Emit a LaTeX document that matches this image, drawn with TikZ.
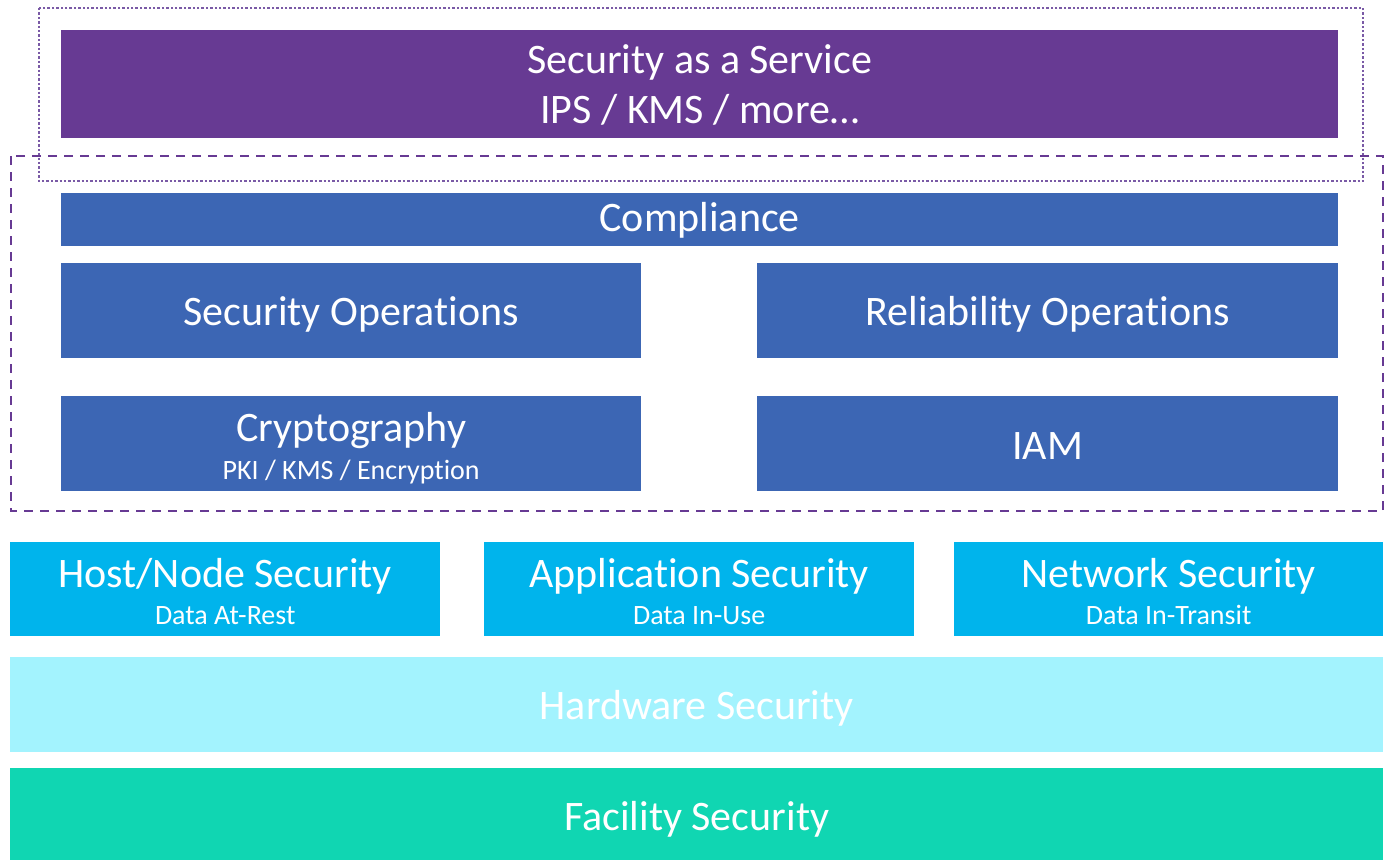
\documentclass[tikz,border=0pt]{standalone}
\usepackage{fontspec}
\setmainfont[Ligatures=NoCommon]{Carlito}
\definecolor{saasPurple}{HTML}{673A93}
\definecolor{coreBlue}{HTML}{3C66B4}
\definecolor{layerCyan}{HTML}{00B4EC}
\definecolor{hwCyan}{HTML}{A3F3FE}
\definecolor{facTeal}{HTML}{10D6B2}
\definecolor{frameDot}{HTML}{7A5AA6}
\begin{document}
\begin{tikzpicture}[x=1pt,y=-1pt,
  blk/.style={anchor=north west, inner sep=0pt, draw=none},
  lbl/.style={anchor=base, inner sep=0pt, text=white, font=\fontsize{42}{50}\selectfont},
  sublbl/.style={anchor=base, inner sep=0pt, text=white, font=\fontsize{28}{34}\selectfont}]
\useasboundingbox (0,0) rectangle (1386,860);

% outer frames
\draw[frameDot, line width=2.4pt, dotted] (39,8) rectangle (1363,181);
\draw[saasPurple, line width=2pt, dash pattern=on 9pt off 7pt] (11,156) rectangle (1383,511);

% service layer
\node[blk, fill=saasPurple, minimum width=1277pt, minimum height=108pt] (saas) at (61,30) {};
\node[lbl] (saasT) at (saas.center |- 0,73) {Security as a Service};
\node[lbl] (saasS) at (saas.center |- 0,123) {IPS / KMS / more\ldots};

% core platform
\node[blk, fill=coreBlue, minimum width=1277pt, minimum height=53pt] (comp) at (61,193) {};
\node[lbl] (compT) at (comp.center |- 0,231) {Compliance};
\node[blk, fill=coreBlue, minimum width=580pt, minimum height=95pt] (secops) at (61,263) {};
\node[lbl] (secopsT) at (secops.center |- 0,325) {Security Operations};
\node[blk, fill=coreBlue, minimum width=581pt, minimum height=95pt] (relops) at (757,263) {};
\node[lbl] (relopsT) at (relops.center |- 0,325) {Reliability Operations};
\node[blk, fill=coreBlue, minimum width=580pt, minimum height=95pt] (crypto) at (61,396) {};
\node[lbl] (cryptoT) at (crypto.center |- 0,441) {Cryptography};
\node[sublbl] (cryptoS) at (crypto.center |- 0,479) {PKI / KMS / Encryption};
\node[blk, fill=coreBlue, minimum width=581pt, minimum height=95pt] (iam) at (757,396) {};
\node[lbl] (iamT) at (iam.center |- 0,459) {IAM};

% data layers
\node[blk, fill=layerCyan, minimum width=430pt, minimum height=94pt] (host) at (10,542) {};
\node[lbl] (hostT) at (host.center |- 0,587) {Host/Node Security};
\node[sublbl] (hostS) at (host.center |- 0,624) {Data At-Rest};
\node[blk, fill=layerCyan, minimum width=430pt, minimum height=94pt] (app) at (484,542) {};
\node[lbl] (appT) at (app.center |- 0,587) {Application Security};
\node[sublbl] (appS) at (app.center |- 0,624) {Data In-Use};
\node[blk, fill=layerCyan, minimum width=429pt, minimum height=94pt] (net) at (954,542) {};
\node[lbl] (netT) at (net.center |- 0,587) {Network Security};
\node[sublbl] (netS) at (net.center |- 0,624) {Data In-Transit};

% base layers
\node[blk, fill=hwCyan, minimum width=1373pt, minimum height=95pt] (hw) at (10,657) {};
\node[lbl] (hwT) at (hw.center |- 0,719) {Hardware Security};
\node[blk, fill=facTeal, minimum width=1373pt, minimum height=92pt] (fac) at (10,768) {};
\node[lbl] (facT) at (fac.center |- 0,830) {Facility Security};
\end{tikzpicture}
\end{document}
